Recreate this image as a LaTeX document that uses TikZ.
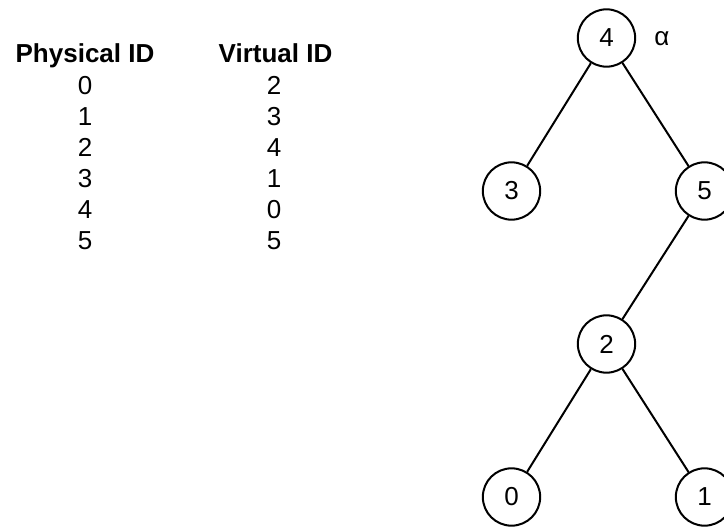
\documentclass[tikz,border=0pt]{standalone}
\usepackage{fontspec}
\setmainfont{Liberation Sans}
\begin{document}
\begin{tikzpicture}[x=0.75pt,y=-0.75pt,
  every node/.style={font=\fontsize{19.5}{23}\selectfont},
  vnode/.style={circle,draw,line width=1.5pt,minimum size=43pt,inner sep=0pt},
  edge/.style={line width=1.5pt},
  cell/.style={anchor=base,inner sep=0pt},
  head/.style={cell,font=\fontsize{19.5}{23}\selectfont\bfseries}]
\useasboundingbox (0,0) rectangle (724,527);

% mapping table: physical id -> virtual id
\node[head] (hp) at (85,63) {Physical ID};
\node[head] (hv) at (275.5,63) {Virtual ID};
\foreach \p/\v [count=\i from 0] in {0/2,1/3,2/4,3/1,4/0,5/5}{
  \node[cell] (p\i) at (85,{95+30.8*\i}) {\p};
  \node[cell] (v\i) at (274,{95+30.8*\i}) {\v};
}

% tree over the virtual ids
\node[vnode] (n4) at (606.5,38) {4};
\node[vnode] (n3) at (511.5,191) {3};
\node[vnode] (n5) at (704.5,191) {5};
\node[vnode] (n2) at (606.5,344) {2};
\node[vnode] (n0) at (511.5,497) {0};
\node[vnode] (n1) at (704.5,497) {1};
\node[cell] (alpha) at (662,45.5) {α};

\draw[edge] (n4) -- (n3);
\draw[edge] (n4) -- (n5);
\draw[edge] (n5) -- (n2);
\draw[edge] (n2) -- (n0);
\draw[edge] (n2) -- (n1);
\end{tikzpicture}
\end{document}
